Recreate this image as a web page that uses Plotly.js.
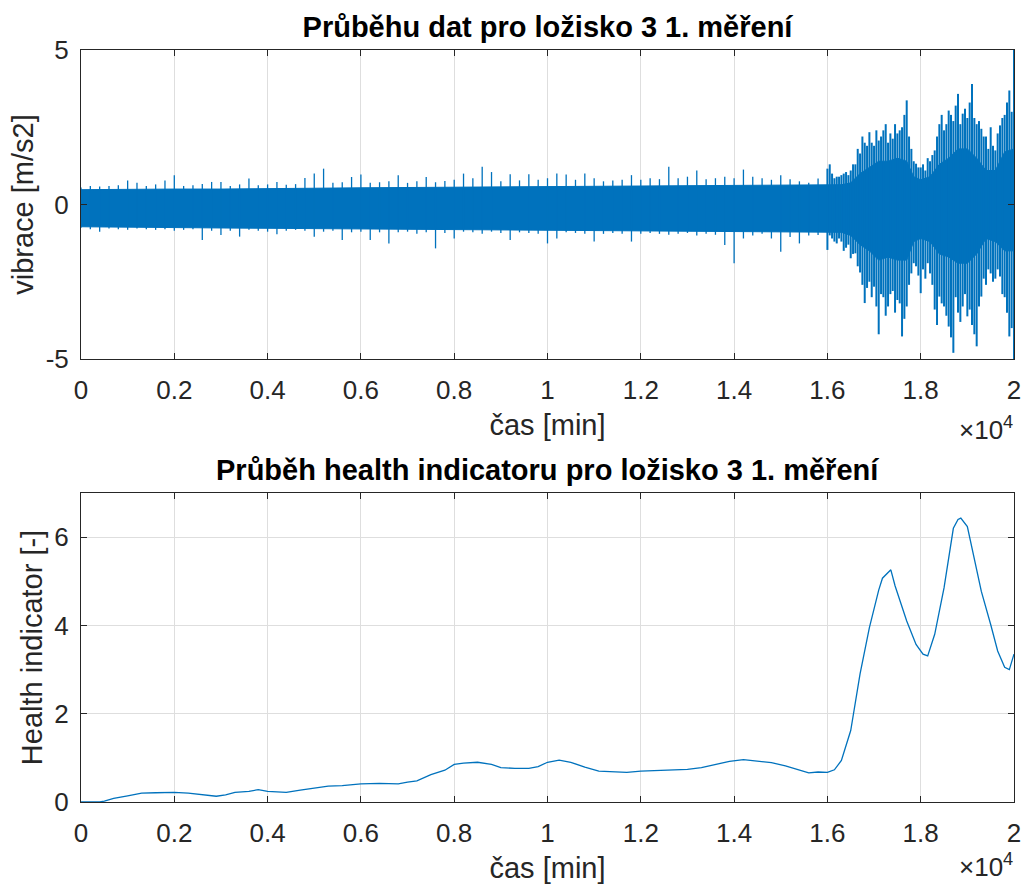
<!DOCTYPE html>
<html>
<head>
<meta charset="utf-8">
<script src="https://cdn.plot.ly/plotly-3.0.1.min.js"></script>
<style>html,body{margin:0;padding:0;background:#fff;}#chart{width:1023px;height:885px;}</style>
</head>
<body>
<div id="chart"></div>
<script>
// ---- Top panel: vibration signal, read as peak envelopes (min/max) per time slot ----
var vibTimeEarly = [0,200,400,600,800,1000,1200,1400,1600,1800,2000,2200,2400,2600,2800,3000,3200,3400,3600,3800,
  4000,4200,4400,4600,4800,5000,5200,5400,5600,5800,6000,6200,6400,6600,6800,7000,7200,7400,7600,7800,
  8000,8200,8400,8600,8800,9000,9200,9400,9600,9800,10000,10200,10400,10600,10800,11000,11200,11400,11600,11800,
  12000,12200,12400,12600,12800,13000,13200,13400,13600,13800,14000,14200,14400,14600,14800,15000,15200,15400,15600,15800];
var vibMaxEarly = [0.55,0.6,0.58,0.6,0.62,0.78,0.7,0.6,0.65,0.78,0.95,0.6,0.62,0.66,0.73,0.73,0.6,0.65,0.84,0.62,
  0.65,0.73,0.64,0.66,0.86,1.0,1.16,0.7,0.72,0.89,0.97,0.7,0.72,0.75,0.95,0.7,0.75,0.89,0.72,0.76,
  0.8,1.0,0.85,1.22,1.05,0.75,0.98,0.78,0.98,0.8,0.85,1.0,0.97,0.8,1.0,0.85,0.75,0.78,0.8,0.95,
  0.8,0.85,0.82,1.22,0.85,0.9,1.1,0.82,0.85,0.9,0.85,1.13,0.9,0.85,0.8,0.95,0.82,0.75,0.7,0.84];
var vibMinEarly = [-0.75,-0.8,-0.88,-0.78,-0.8,-0.82,-0.78,-0.8,-0.82,-0.8,-0.85,-0.82,-0.8,-1.15,-0.85,-0.99,-0.85,-1.04,-0.82,-0.85,
  -0.88,-0.96,-0.85,-0.82,-0.85,-1.04,-0.88,-0.85,-1.15,-0.9,-0.88,-1.15,-0.9,-1.26,-0.9,-0.88,-0.95,-0.9,-1.42,-0.92,
  -1.1,-0.88,-0.9,-0.95,-0.88,-0.92,-1.15,-0.9,-0.92,-0.95,-1.26,-1.1,-0.9,-0.92,-0.95,-1.2,-0.95,-0.92,-0.95,-1.2,
  -0.95,-0.92,-0.95,-0.98,-0.95,-0.92,-1.0,-0.95,-0.98,-1.31,-1.9,-1.1,-1.0,-0.95,-1.1,-1.53,-1.05,-1.26,-1.0,-0.99];
var vibTimeLate = [16000,16100,16200,16300,16400,16500,16600,16700,16800,16900,17000,17100,17200,17300,17400,17500,17600,17700,17800,17900,
  18000,18100,18200,18300,18400,18500,18600,18700,18800,18900,19000,19100,19200,19300,19400,19500,19600,19700,19800,19900,20000];
var vibMaxLate = [1.16,1.0,0.9,0.95,1.05,1.1,1.3,1.65,2.0,2.34,1.9,2.07,2.4,2.0,2.13,2.3,2.5,3.37,1.8,1.32,
  1.2,1.1,1.4,1.75,2.6,2.4,3.04,2.7,3.58,2.94,2.8,3.9,2.6,2.45,2.2,2.5,1.75,2.56,2.9,3.69,5.5];
var vibMinLate = [-1.47,-1.1,-1.26,-1.2,-1.4,-1.74,-1.58,-2.2,-3.19,-2.5,-2.66,-4.2,-3.0,-3.3,-2.8,-3.09,-4.27,-3.3,-2.23,-2.0,
  -2.87,-2.4,-2.23,-3.4,-2.98,-3.3,-3.95,-4.8,-3.5,-3.3,-3.62,-3.9,-4.59,-2.98,-2.6,-2.23,-2.4,-2.33,-3.0,-4.27,-5.5];
var vibTimeLateMid = [16050,16150,16250,16350,16450,16550,16650,16750,16850,16950,17050,17150,17250,17350,17450,17550,17650,17750,17850,17950,
  18050,18150,18250,18350,18450,18550,18650,18750,18850,18950,19050,19150,19250,19350,19450,19550,19650,19750,19850,19950];
var vibMaxLateMid = [1.3,0.85,0.9,1.0,0.95,1.3,1.8,2.2,1.9,2.0,2.4,2.2,2.6,2.3,2.6,2.4,2.9,2.2,1.4,1.2,
  1.3,1.5,1.6,2.2,2.9,2.6,2.9,3.2,2.6,3.1,3.3,2.8,2.7,2.2,1.8,1.9,2.3,2.8,3.3,3.0];
var vibMinLateMid = [-1.0,-1.2,-1.1,-1.5,-1.3,-1.6,-2.0,-2.6,-2.7,-3.0,-3.3,-2.9,-3.6,-2.9,-3.5,-3.2,-3.7,-2.6,-1.9,-2.3,
  -2.1,-1.9,-2.6,-3.9,-3.2,-3.6,-4.3,-3.0,-3.8,-2.9,-3.4,-4.2,-3.3,-2.4,-2.1,-2.5,-2.1,-2.9,-3.5,-4.0];
// dense core band of the signal
var coreTime = [0,1000,2000,3000,4000,5000,6000,7000,8000,9000,10000,11000,12000,13000,14000,15000,16000,16300,16500,16700,16900,
  17100,17300,17500,17700,17850,18000,18200,18400,18600,18800,19000,19200,19400,19600,19800,20000];
var coreMax = [0.48,0.5,0.5,0.5,0.52,0.53,0.54,0.55,0.56,0.57,0.57,0.58,0.58,0.59,0.6,0.61,0.62,0.64,0.7,1.0,1.2,
  1.4,1.4,1.5,1.4,0.9,0.8,0.9,1.3,1.5,1.8,1.8,1.5,1.1,1.1,1.7,1.8];
var coreMin = [-0.72,-0.74,-0.75,-0.76,-0.77,-0.78,-0.79,-0.8,-0.81,-0.82,-0.82,-0.83,-0.84,-0.85,-0.86,-0.87,-0.88,-0.9,-1.0,-1.3,-1.5,
  -1.8,-1.7,-1.8,-1.8,-1.2,-1.1,-1.2,-1.6,-1.7,-1.9,-1.9,-1.6,-1.1,-1.2,-1.5,-1.5];
var yTickVals1 = [-5,0,5];
var yTickText1 = ['-5','0','5'];

// ---- Bottom panel: health indicator ----
var hiTime = [0,200,400,500,700,1000,1300,1600,2000,2300,2600,2900,3100,3300,3600,3800,4000,4400,4700,5000,
  5300,5600,6000,6400,6800,7000,7200,7500,7800,8000,8200,8500,8800,9000,9300,9600,9800,10000,10250,10500,
  10800,11100,11400,11700,12000,12500,13000,13300,13600,13900,14200,14500,14800,15100,15400,15600,15800,16000,16150,16300,
  16500,16700,16900,17100,17180,17300,17360,17450,17500,17700,17900,18050,18150,18300,18500,18700,18800,18860,19000,19150,
  19300,19500,19650,19800,19900,20000];
var hiValue = [0.0,0.0,0.0,0.02,0.08,0.14,0.2,0.21,0.22,0.2,0.16,0.13,0.16,0.22,0.24,0.28,0.24,0.22,0.27,0.32,
  0.36,0.37,0.41,0.42,0.41,0.45,0.48,0.62,0.72,0.85,0.88,0.9,0.85,0.78,0.76,0.76,0.8,0.9,0.95,0.9,
  0.79,0.7,0.69,0.67,0.7,0.72,0.74,0.78,0.85,0.92,0.96,0.93,0.89,0.82,0.73,0.66,0.68,0.67,0.73,0.94,
  1.62,2.9,3.95,4.8,5.07,5.2,5.26,4.9,4.74,4.1,3.57,3.35,3.31,3.8,4.85,6.2,6.4,6.43,6.24,5.5,
  4.77,4.02,3.42,3.05,3.0,3.35];
var yTickVals2 = [0,2,4,6];

var xTickVals = [0,2000,4000,6000,8000,10000,12000,14000,16000,18000,20000];
var xTickText = ['0','0.2','0.4','0.6','0.8','1','1.2','1.4','1.6','1.8','2'];

var BLUE = '#0072BD';
var FONT = 'Liberation Sans, Arial, Helvetica, sans-serif';
var AX = '#262626';

// vertical min-max strokes
function segs(t, hi, lo){
  var sx = [], sy = [];
  for (var i = 0; i < t.length; i++){ sx.push(t[i], t[i], null); sy.push(hi[i], lo[i], null); }
  return {x:sx, y:sy};
}
var sEarly = segs(vibTimeEarly, vibMaxEarly, vibMinEarly);
var sLate = segs(vibTimeLate, vibMaxLate, vibMinLate);
var sMid = segs(vibTimeLateMid, vibMaxLateMid, vibMinLateMid);

var traces = [
  {x: coreTime, y: coreMin, type:'scatter', mode:'lines', line:{color:BLUE, width:1}, xaxis:'x', yaxis:'y', hoverinfo:'skip', showlegend:false},
  {x: coreTime, y: coreMax, type:'scatter', mode:'lines', fill:'tonexty', fillcolor:BLUE, line:{color:BLUE, width:1}, xaxis:'x', yaxis:'y', hoverinfo:'skip', showlegend:false},
  {x: sEarly.x, y: sEarly.y, type:'scatter', mode:'lines', line:{color:BLUE, width:1.3}, connectgaps:false, xaxis:'x', yaxis:'y', showlegend:false},
  {x: sLate.x, y: sLate.y, type:'scatter', mode:'lines', line:{color:BLUE, width:2}, connectgaps:false, xaxis:'x', yaxis:'y', showlegend:false},
  {x: sMid.x, y: sMid.y, type:'scatter', mode:'lines', line:{color:BLUE, width:2}, connectgaps:false, xaxis:'x', yaxis:'y', showlegend:false},
  {x: hiTime, y: hiValue, type:'scatter', mode:'lines', line:{color:BLUE, width:1.3}, xaxis:'x2', yaxis:'y2', showlegend:false}
];

function xAxis(anchor){
  return {
    domain:[81/1023, 1014/1023], range:[0,20000], anchor:anchor,
    tickmode:'array', tickvals:xTickVals, ticktext:xTickText,
    ticks:'inside', ticklen:6, tickwidth:1, tickcolor:AX,
    showline:true, linecolor:AX, linewidth:1, mirror:'ticks',
    showgrid:true, gridcolor:'#dedede', gridwidth:1, zeroline:false,
    tickfont:{family:FONT, size:26, color:AX}, ticklabelstandoff:8,
    title:{text:'čas [min]', font:{family:FONT, size:29, color:AX}, standoff:10},
    automargin:false
  };
}
function yAxis(anchor, dom, rng, tv, tt, ttl){
  var a = {
    domain:dom, range:rng, anchor:anchor,
    tickmode:'array', tickvals:tv,
    ticks:'inside', ticklen:6, tickwidth:1, tickcolor:AX,
    showline:true, linecolor:AX, linewidth:1, mirror:'ticks',
    showgrid:true, gridcolor:'#dedede', gridwidth:1, zeroline:false,
    tickfont:{family:FONT, size:26, color:AX}, ticklabelstandoff:6,
    title:{text:ttl, font:{family:FONT, size:29, color:AX}, standoff:3},
    automargin:false
  };
  if (tt) a.ticktext = tt;
  return a;
}

var layout = {
  width:1023, height:885,
  margin:{l:0, r:0, t:0, b:0},
  paper_bgcolor:'#ffffff', plot_bgcolor:'#ffffff',
  showlegend:false,
  title:{text:'<b>Průběhu dat pro ložisko 3 1. měření</b>', font:{family:FONT, size:29, color:'#000'},
         x:547.5/1023, xanchor:'center', xref:'paper', y:1-27/885, yanchor:'middle', yref:'container'},
  xaxis: xAxis('y'),
  yaxis: yAxis('x', [1-359/885, 1-50/885], [-5,5], yTickVals1, yTickText1, 'vibrace [m/s2]'),
  xaxis2: xAxis('y2'),
  yaxis2: yAxis('x2', [1-802/885, 1-493/885], [0,7], yTickVals2, null, 'Health indicator [-]'),
  annotations:[
    {text:'<b>Průběh health indicatoru pro ložisko 3 1. měření</b>', xref:'paper', yref:'paper',
     x:547.5/1023, y:1-470/885, xanchor:'center', yanchor:'middle', showarrow:false,
     font:{family:FONT, size:29, color:'#000'}},
    {text:'×10<sup>4</sup>', xref:'paper', yref:'paper', x:1015/1023, y:1-428/885,
     xanchor:'right', yanchor:'middle', showarrow:false, font:{family:FONT, size:26, color:AX}},
    {text:'×10<sup>4</sup>', xref:'paper', yref:'paper', x:1015/1023, y:1-865/885,
     xanchor:'right', yanchor:'middle', showarrow:false, font:{family:FONT, size:26, color:AX}}
  ]
};

Plotly.newPlot('chart', traces, layout, {displayModeBar:false, staticPlot:true});
</script>
</body>
</html>
